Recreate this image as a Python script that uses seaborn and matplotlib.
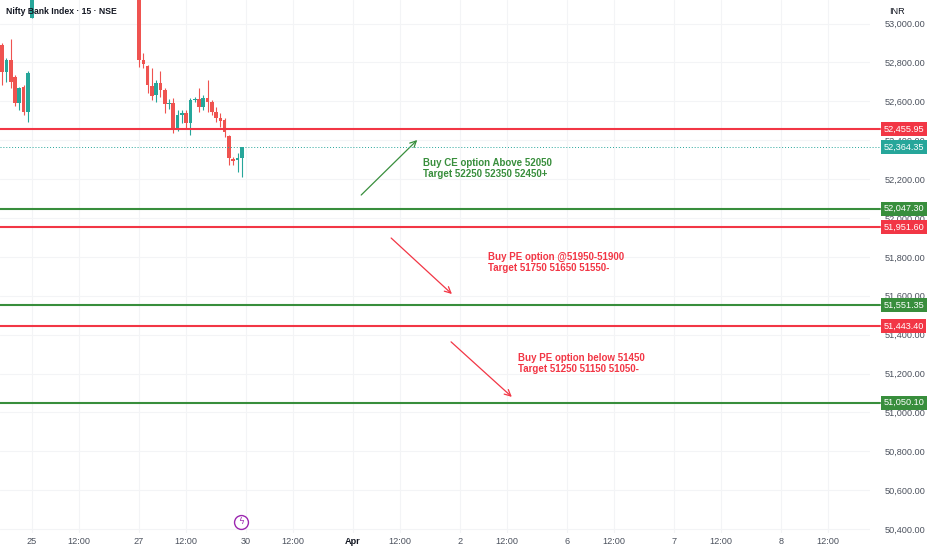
import numpy as np
import pandas as pd
import matplotlib
matplotlib.use("Agg")
import matplotlib.pyplot as plt
import seaborn as sns

# 15 min candles (bar index, open, high, low, close)
bar_idx = [-7, -6, -5, -4, -3, -2, -1, 0,
           25, 26, 27, 28, 29, 30, 31, 32, 33, 34, 35, 36, 37, 38, 39, 40, 41, 42, 43, 44, 45, 46, 47, 48, 49]
opens = [52889, 52751, 52812, 52725, 52591, 52673, 52545, 53028,
         53300, 52812, 52781, 52679, 52632, 52694, 52658, 52586, 52591, 52452, 52530, 52540, 52488, 52607,
         52612, 52571, 52617, 52596, 52545, 52514, 52504, 52422, 52303, 52298, 52308]
highs = [52900, 52822, 52920, 52735, 52673, 52683, 52755, 53250,
         53350, 52848, 52786, 52771, 52710, 52756, 52668, 52612, 52617, 52555, 52555, 52555, 52617, 52622,
         52668, 52632, 52710, 52607, 52571, 52540, 52514, 52427, 52314, 52334, 52365]
lows = [52683, 52699, 52668, 52576, 52555, 52530, 52493, 53028,
        52776, 52771, 52643, 52607, 52596, 52622, 52540, 52560, 52437, 52447, 52488, 52463, 52427, 52596,
        52545, 52555, 52545, 52530, 52493, 52468, 52416, 52272, 52272, 52236, 52211]
closes = [52751, 52812, 52699, 52591, 52668, 52545, 52745, 53200,
          52812, 52792, 52684, 52627, 52694, 52658, 52586, 52591, 52463, 52530, 52540, 52488, 52607, 52612,
          52571, 52617, 52596, 52545, 52514, 52499, 52442, 52308, 52293, 52308, 52364.35]

# horizontal levels
level_prices = [52455.95, 52047.30, 51951.60, 51551.35, 51443.40, 51050.10]
level_kinds = ["red", "green", "red", "green", "red", "green"]
last_price = 52364.35

# time axis
tick_pos = [0, 11, 25, 36, 50, 61, 75, 86, 100, 111, 125, 136, 150, 161, 175, 186]
tick_labels = ["25", "12:00", "27", "12:00", "30", "12:00", "Apr", "12:00",
               "2", "12:00", "6", "12:00", "7", "12:00", "8", "12:00"]
price_ticks = list(range(50400, 53001, 200))

# trade notes: arrow start/end (bar, price) and text anchor
arrow_start = [(76.9, 52118), (83.9, 51897), (97.9, 51363)]
arrow_end = [(90.0, 52401), (98.1, 51609), (112.1, 51080)]
note_pos = [(91.4, 52255), (106.5, 51771), (113.6, 51252)]
note_text = ["Buy CE option Above 52050\nTarget 52250 52350 52450+",
             "Buy PE option @51950-51900\nTarget 51750 51650 51550-",
             "Buy PE option below 51450\nTarget 51250 51150 51050-"]
note_kinds = ["green", "red", "red"]

UP = "#26a69a"
DOWN = "#ef5350"
COL = {"red": "#f23645", "green": "#388e3c"}

sns.set_theme(style="white")
plt.rcParams["font.family"] = ["Liberation Sans", "DejaVu Sans"]

df = pd.DataFrame({"i": bar_idx, "o": opens, "h": highs, "l": lows, "c": closes})
df["up"] = df["c"] >= df["o"]
df["color"] = np.where(df["up"], UP, DOWN)

fig = plt.figure(figsize=(9.32, 5.5), dpi=100)
ax = fig.add_axes([0, 17 / 550, 870 / 932, 533 / 550])

for x in tick_pos:
    ax.axvline(x, color="#f3f4f6", lw=0.8, zorder=0)
for p in price_ticks:
    ax.axhline(p, color="#f3f4f6", lw=0.8, zorder=0)

ax.vlines(df["i"], df["l"], df["h"], colors=df["color"], lw=0.8, zorder=2)
ax.bar(df["i"], (df["c"] - df["o"]).abs().clip(lower=4), bottom=df[["o", "c"]].min(axis=1),
       width=0.85, color=df["color"], linewidth=0, zorder=3)

ytr = ax.get_yaxis_transform()
box_x = 1.0155
for p, k in zip(level_prices, level_kinds):
    ax.plot([0, 1.012], [p, p], color=COL[k], lw=1.5, transform=ytr, clip_on=False, zorder=4)
    ax.text(box_x, p, f"{p:,.2f}", transform=ytr, ha="left", va="center", fontsize=6.6,
            color="white", zorder=6,
            bbox=dict(boxstyle="square,pad=0.28", fc=COL[k], ec="none"))

ax.plot([0, 1.012], [last_price, last_price], color=UP, lw=0.7, ls=(0, (1, 2)),
        transform=ytr, clip_on=False, zorder=4)
ax.text(box_x, last_price, f"{last_price:,.2f}", transform=ytr, ha="left", va="center",
        fontsize=6.6, color="white", zorder=6,
        bbox=dict(boxstyle="square,pad=0.28", fc=UP, ec="none"))

for s, e, t, pos, k in zip(arrow_start, arrow_end, note_text, note_pos, note_kinds):
    ax.annotate("", xy=e, xytext=s,
                arrowprops=dict(arrowstyle="->", color=COL[k], lw=0.9, mutation_scale=11,
                                shrinkA=0, shrinkB=0))
    ax.text(pos[0], pos[1], t, ha="left", va="center", fontsize=7.0, fontweight="bold",
            color=COL[k], linespacing=1.15)

# lightning marker near the time axis
xtr = ax.get_xaxis_transform()
ax.plot([48.8], [0.021], marker="o", ms=10, mfc="white", mec="#9c27b0", mew=1.0,
        transform=xtr, clip_on=False, zorder=6)
ax.text(48.8, 0.021, "\u03df", transform=xtr, ha="center", va="center", fontsize=6.5,
        color="#9c27b0", zorder=7, family=["DejaVu Sans"])

ax.set_xlim(-7.5, 195.8)
ax.set_ylim(50380, 53121)

ax.yaxis.tick_right()
ax.set_yticks(price_ticks)
ax.set_yticklabels([f"{p:,.2f}" for p in price_ticks])
ax.tick_params(axis="y", length=0, pad=10.5, labelsize=6.6, labelcolor="#4c525e")
ax.set_xticks(tick_pos)
ax.set_xticklabels(tick_labels)
ax.tick_params(axis="x", length=0, pad=3, labelsize=6.6, labelcolor="#4c525e")
for lbl in ax.get_xticklabels():
    if lbl.get_text() == "Apr":
        lbl.set_fontweight("bold")
        lbl.set_color("#131722")

for sp in ax.spines.values():
    sp.set_visible(False)

fig.text(6 / 932, 1 - 11 / 550, "Nifty Bank Index \u00b7 15 \u00b7 NSE", ha="left", va="center",
         fontsize=6.2, fontweight="bold", color="#131722")
fig.text(897 / 932, 1 - 12 / 550, "INR", ha="center", va="center", fontsize=6.6, color="#131722")

fig.savefig("out.png", dpi=100)
